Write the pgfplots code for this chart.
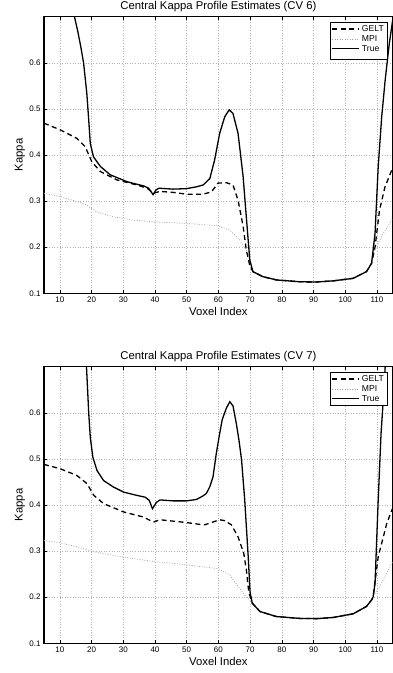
\documentclass[border=0pt]{standalone}
\usepackage{pgfplots}
\pgfplotsset{compat=1.18}
\usepackage{fontspec}
\setmainfont{Liberation Sans}

\pgfplotsset{
  kappastyle/.style={
    scale only axis,
    width=348.8pt, height=276.6pt,
    anchor=south west,
    xmin=5, xmax=115, ymin=0.1, ymax=0.7,
    xtick={10,20,...,110},
    ytick={0.1,0.2,0.3,0.4,0.5,0.6},
    yticklabel style={/pgf/number format/fixed, /pgf/number format/precision=1},
    xtick pos=both, ytick pos=left,
    tick align=inside,
    major tick length=3pt,
    every tick/.style={black, line width=0.6pt},
    axis line style={line width=1.1pt},
    grid=major,
    grid style={gray!60, line width=0.5pt, dash pattern=on 0.8pt off 1.8pt},
    tick label style={font=\fontsize{8}{9}\selectfont},
    /pgf/number format/assume math mode=true,
    xlabel={Voxel Index}, ylabel={Kappa},
    every axis x label/.style={at={(axis description cs:0.5,0)}, anchor=center, yshift=-18pt, font=\fontsize{11.3}{13}\selectfont},
    every axis y label/.style={at={(axis description cs:-0.0688,0.5)}, anchor=center, rotate=90, font=\fontsize{11.3}{13}\selectfont},
    every axis title/.style={at={(axis description cs:0.5,1)}, anchor=center, yshift=9.7pt, font=\fontsize{11.3}{13}\selectfont},
    legend style={at={(axis description cs:1,1)}, anchor=north east, xshift=-5pt, yshift=-5pt,
      draw=black, line width=1pt, font=\fontsize{8.6}{10}\selectfont, inner xsep=1.5pt, inner ysep=1pt,
      row sep=-1.5pt, cells={anchor=west}},
    legend image code/.code={\draw[#1] (0pt,0pt) -- (27pt,0pt);},
  },
  gelt/.style={black, line width=1.3pt, dash pattern=on 5pt off 3.5pt},
  mpi/.style={gray!75, line width=0.7pt, dash pattern=on 0.9pt off 1.6pt},
  truecurve/.style={black, line width=1.3pt},
}

\begin{document}
\begin{tikzpicture}
% ---------------- CV 6 ----------------
\begin{axis}[kappastyle, at={(44pt,-293.3pt)}, title={Central Kappa Profile Estimates (CV 6)}]
\addplot[gelt] coordinates {
(5,0.469)(10,0.455)(15.4,0.436)(18,0.418)(20.1,0.385)(22.8,0.364)(28,0.346)(34.3,0.335)
(37.5,0.328)(39.5,0.317)(41.5,0.321)(45.7,0.319)(49.9,0.315)(55.2,0.315)(57.8,0.320)
(59.9,0.339)(62.5,0.340)(64.6,0.335)(66.2,0.302)(67.8,0.245)(68.8,0.194)(69.9,0.160)
(70.9,0.147)(74.1,0.136)(78.3,0.129)(85.7,0.125)(91.0,0.1246)(96.2,0.127)(102.5,0.1325)
(106.7,0.147)(108.3,0.165)(109.4,0.200)(110.8,0.280)(112.5,0.330)(114.7,0.368)(115.5,0.38)
};
\addlegendentry{GELT}
\addplot[mpi] coordinates {
(5,0.317)(10,0.310)(15,0.300)(18.3,0.292)(21.5,0.277)(26.7,0.266)(33.1,0.259)(39.4,0.255)
(48.8,0.252)(59.4,0.247)(63.6,0.237)(66.7,0.216)(69.4,0.187)(70.4,0.158)
(70.9,0.147)(74.1,0.136)(78.3,0.129)(85.7,0.125)(91.0,0.1246)(96.2,0.127)(102.5,0.1325)
(106.7,0.147)(108.3,0.165)(108.8,0.187)(112,0.230)(114.7,0.259)(115.5,0.265)
};
\addlegendentry{MPI}
\addplot[truecurve] coordinates {
(14.1,0.72)(14.6,0.70)(15.6,0.67)(16.6,0.635)(17.5,0.599)(18.5,0.534)(19.1,0.476)(19.6,0.425)(20.6,0.396)
(22.8,0.375)(25.9,0.357)(31.2,0.342)(36.4,0.333)(38.0,0.328)(39.4,0.314)(40.3,0.324)
(41.2,0.328)(45.7,0.326)(49.9,0.327)(53.1,0.331)(55.2,0.335)(57.3,0.349)(58.8,0.389)
(60.4,0.447)(62.0,0.483)(63.4,0.498)(64.6,0.490)(66.2,0.447)(67.8,0.353)(68.8,0.266)
(69.9,0.172)(70.9,0.147)(74.1,0.136)(78.3,0.129)(85.7,0.125)(91.0,0.1246)(96.2,0.127)
(102.5,0.1325)(106.7,0.147)(108.3,0.165)(109.4,0.23)(110.4,0.375)(111.5,0.483)
(112.6,0.563)(113.9,0.642)(114.7,0.68)(115.5,0.72)
};
\addlegendentry{True}
\addlegendimage{empty legend}
\addlegendentry{}
\end{axis}

% ---------------- CV 7 ----------------
\begin{axis}[kappastyle, at={(44pt,-643.3pt)}, title={Central Kappa Profile Estimates (CV 7)}]
\addplot[gelt] coordinates {
(5,0.488)(10,0.479)(15.4,0.464)(18.6,0.446)(20.7,0.421)(23.8,0.403)(30.1,0.385)(36.3,0.374)
(39.5,0.363)(41.6,0.368)(45.7,0.365)(49.9,0.362)(54.1,0.358)(55.7,0.357)(57.8,0.362)
(60.4,0.368)(62,0.366)(64.1,0.357)(66.2,0.331)(68,0.295)(68.8,0.26)(69.6,0.21)(70.7,0.187)
(73.1,0.169)(78.3,0.158)(85.7,0.154)(91,0.1535)(96.2,0.156)(102.5,0.164)(106.7,0.18)
(108.3,0.194)(108.8,0.201)(110.4,0.288)(113.1,0.36)(114.7,0.389)(115.5,0.40)
};
\addlegendentry{GELT}
\addplot[mpi] coordinates {
(5,0.323)(10,0.318)(15,0.310)(20,0.300)(25,0.293)(30,0.287)(35,0.282)(40,0.277)(45,0.274)
(50,0.270)(55,0.266)(60,0.262)(63.6,0.248)(66.7,0.219)(68.5,0.203)(69.7,0.195)(70.7,0.187)
(73.1,0.169)(78.3,0.158)(85.7,0.154)(91,0.1535)(96.2,0.156)(102.5,0.164)(106.7,0.18)
(108.3,0.194)(109,0.205)(110.9,0.223)(114.7,0.274)(115.5,0.28)
};
\addlegendentry{MPI}
\addplot[truecurve] coordinates {
(18.3,0.72)(18.4,0.70)(19.1,0.60)(19.6,0.547)(20.4,0.504)(21.7,0.475)(23.8,0.453)(26.9,0.439)
(30.1,0.428)(34.2,0.421)(36.9,0.417)(38.2,0.41)(39.2,0.392)(40.5,0.406)(41.6,0.411)
(45.7,0.409)(49.9,0.409)(53.1,0.412)(55.2,0.42)(56.2,0.425)(57.3,0.44)(58.3,0.461)
(59.3,0.51)(60.4,0.555)(61.2,0.585)(62.5,0.61)(63.6,0.624)(64.6,0.615)(65.7,0.575)
(66.5,0.54)(67.3,0.498)(68.3,0.411)(69.4,0.288)(70.0,0.21)(70.7,0.187)(73.1,0.169)
(78.3,0.158)(85.7,0.154)(91,0.1535)(96.2,0.156)(102.5,0.164)(106.7,0.18)(108.3,0.194)
(108.8,0.201)(109.4,0.231)(110.4,0.411)(111.3,0.556)(112,0.628)(112.6,0.70)(112.8,0.72)
};
\addlegendentry{True}
\end{axis}
\pgfresetboundingbox
\useasboundingbox (0,0) rectangle (392pt,-673pt);
\end{tikzpicture}
\end{document}
